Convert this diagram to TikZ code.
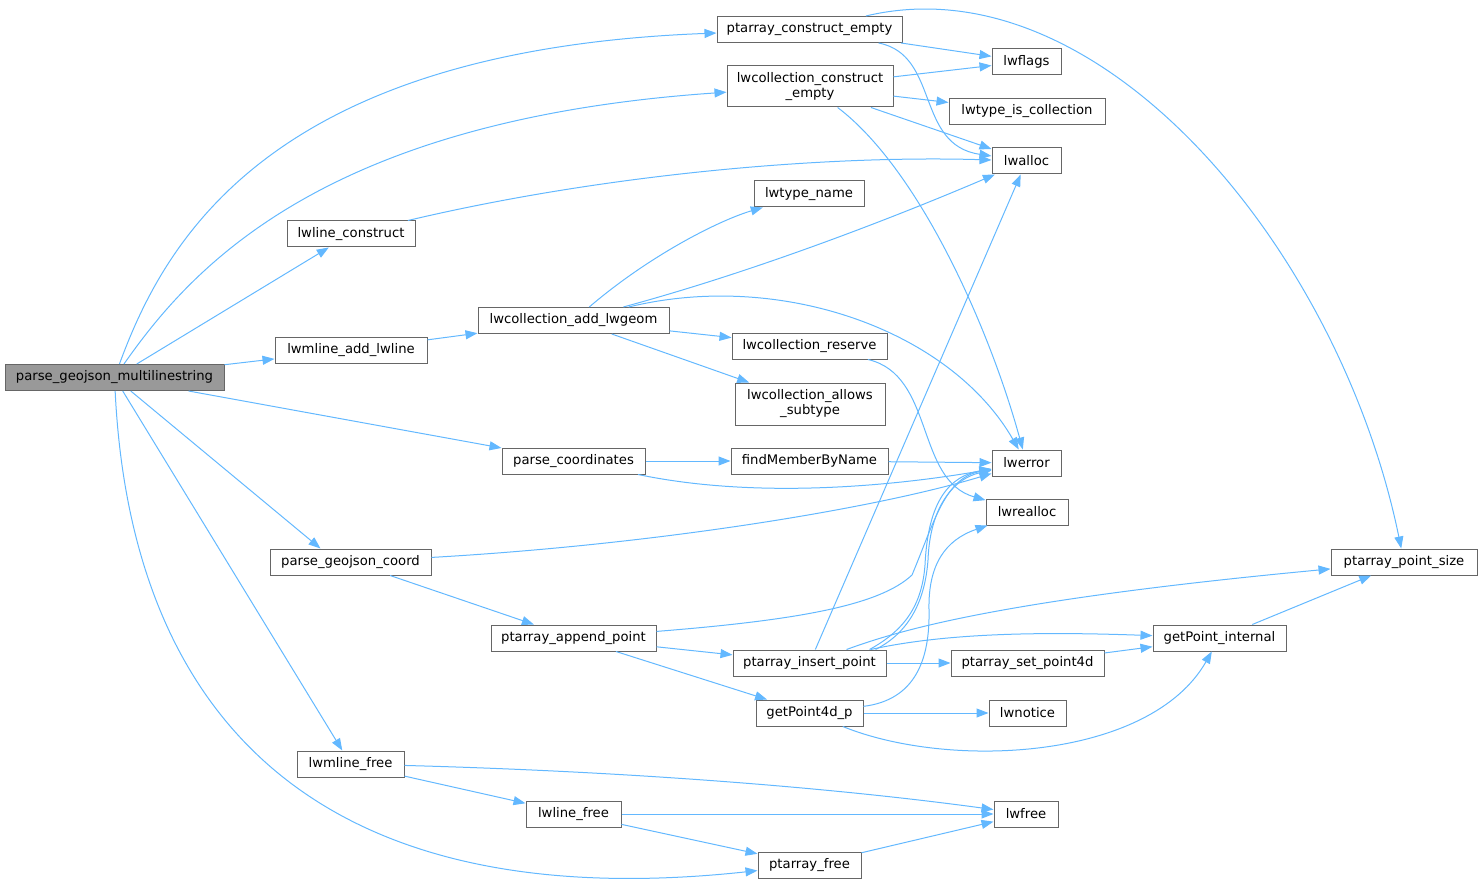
\documentclass[tikz,border=0pt]{standalone}
\usepackage{fontspec}
\setmainfont{DejaVu Sans}
\usetikzlibrary{arrows.meta,calc}
\definecolor{edgecol}{HTML}{63B8FF}
\definecolor{nodeborder}{HTML}{666666}
\definecolor{mainfill}{HTML}{999999}
\begin{document}
\begin{tikzpicture}[x=1pt,y=-1pt,
  fn/.style={draw=nodeborder, fill=white, line width=1pt, inner sep=0pt,
    minimum height=26pt, font=\fontsize{13.2}{15}\selectfont, align=center},
  call/.style={draw=edgecol, line width=1pt, -{Triangle[length=12pt,width=9pt]}}]
\useasboundingbox (0,0) rectangle (1483,893);

% nodes
\node[fn, fill=mainfill, minimum width=219pt] (P) at (114.5,377.5) {parse\_geojson\_multilinestring};
\node[fn, minimum width=185pt] (PCE) at (809.5,29.5) {ptarray\_construct\_empty};
\node[fn, minimum width=69pt] (LWF) at (1026.5,61.5) {lwflags};
\node[fn, minimum width=166pt, minimum height=41pt] (LCCE) at (810,86.5) {lwcollection\_construct\\\_empty};
\node[fn, minimum width=156pt] (LTIC) at (1027,111.5) {lwtype\_is\_collection};
\node[fn, minimum width=69pt] (LWA) at (1026.5,161) {lwalloc};
\node[fn, minimum width=110pt] (LTN) at (809,194) {lwtype\_name};
\node[fn, minimum width=128pt] (LC) at (351,234) {lwline\_construct};
\node[fn, minimum width=191pt] (LCAL) at (573.5,320.5) {lwcollection\_add\_lwgeom};
\node[fn, minimum width=152pt] (LMAL) at (351,350) {lwmline\_add\_lwline};
\node[fn, minimum width=155pt] (LCR) at (809.5,346) {lwcollection\_reserve};
\node[fn, minimum width=150pt, minimum height=42pt] (LCAS) at (810,404) {lwcollection\_allows\\\_subtype};
\node[fn, minimum width=143pt] (PC) at (573.5,461) {parse\_coordinates};
\node[fn, minimum width=157pt] (FMB) at (809.5,461) {findMemberByName};
\node[fn, minimum width=69pt] (LWE) at (1026.5,463) {lwerror};
\node[fn, minimum width=82pt] (LWR) at (1027,512) {lwrealloc};
\node[fn, minimum width=161pt] (PGC) at (350.5,562) {parse\_geojson\_coord};
\node[fn, minimum width=146pt] (PPS) at (1404,562) {ptarray\_point\_size};
\node[fn, minimum width=165pt] (PAP) at (573.5,638) {ptarray\_append\_point};
\node[fn, minimum width=133pt] (GPI) at (1219.5,638) {getPoint\_internal};
\node[fn, minimum width=153pt] (PIP) at (809.5,663) {ptarray\_insert\_point};
\node[fn, minimum width=153pt] (PSP) at (1027.5,663) {ptarray\_set\_point4d};
\node[fn, minimum width=107pt] (G4) at (809.5,713) {getPoint4d\_p};
\node[fn, minimum width=77pt] (LWN) at (1027.5,713) {lwnotice};
\node[fn, minimum width=107pt] (LMF) at (350.5,764) {lwmline\_free};
\node[fn, minimum width=95pt] (LLF) at (573.5,814) {lwline\_free};
\node[fn, minimum width=64pt] (LFR) at (1026,814) {lwfree};
\node[fn, minimum width=103pt] (PF) at (809.5,865) {ptarray\_free};

% edges from parse_geojson_multilinestring
\draw[call] (P) .. controls (165,240) and (270,50) .. (PCE);
\draw[call] (P) .. controls (190,270) and (320,120) .. (LCCE);
\draw[call] (P) -- (LC);
\draw[call] (P) -- (LMAL);
\draw[call] (P) -- (PC);
\draw[call] (P) -- ([xshift=-30pt]PGC.north);
\draw[call] (P) -- (LMF);
\draw[call] (P) .. controls (130,700) and (300,920) .. (PF);

% ptarray_construct_empty
\draw[call] (PCE) -- (LWF);
\draw[call] (PCE) .. controls (940,55) and (915,145) .. (LWA);
\draw[call] (PCE) .. controls (1100,-40) and (1340,250) .. (PPS);

% lwcollection_construct_empty
\draw[call] (LCCE) -- (LWF);
\draw[call] (LCCE) -- (LTIC);
\draw[call] (LCCE) -- (LWA);
\draw[call] (LCCE) .. controls (920,170) and (990,330) .. (LWE);

% lwline_construct
\draw[call] (LC) .. controls (600,175) and (820,155) .. (LWA);

% lwmline_add_lwline
\draw[call] (LMAL) -- (LCAL);

% lwcollection_add_lwgeom
\draw[call] (LCAL) .. controls (650,255) and (720,220) .. (LTN);
\draw[call] (LCAL) .. controls (760,270) and (900,215) .. (LWA);
\draw[call] (LCAL) .. controls (780,270) and (950,330) .. (LWE);
\draw[call] (LCAL) -- (LCR);
\draw[call] (LCAL) -- (LCAS);

% lwcollection_reserve
\draw[call] (LCR) .. controls (935,375) and (915,480) .. (LWR);

% parse_coordinates
\draw[call] (PC) -- (FMB);
\draw[call] (PC) .. controls (760,500) and (900,485) .. (LWE);
\draw[call] (FMB) -- (LWE);

% parse_geojson_coord
\draw[call] (PGC) .. controls (650,545) and (870,510) .. (LWE);
\draw[call] (PGC) -- (PAP);

% ptarray_append_point
\draw[call] (PAP) .. controls (800,620) and (880,605) .. (912,575)
  .. controls (935,520) and (945,478) .. (LWE);
\draw[call] (PAP) -- (PIP);
\draw[call] (PAP) -- (G4);

% ptarray_insert_point
\draw[call] (PIP) -- (LWA);
\draw[call] ([xshift=60pt]PIP.north) .. controls (905,630) and (922,605) .. (925,565)
  .. controls (928,500) and (950,476) .. (LWE);
\draw[call] ([xshift=66pt]PIP.north) .. controls (910,632) and (925,600) .. (928,560)
  .. controls (930,505) and (955,478) .. (LWE);
\draw[call] (PIP) .. controls (900,630) and (1000,600) .. (PPS);
\draw[call] (PIP) .. controls (950,632) and (1050,632) .. (GPI);
\draw[call] (PIP) -- (PSP);

% ptarray_set_point4d
\draw[call] (PSP) -- (GPI);

% getPoint_internal
\draw[call] (GPI) -- (PPS);

% getPoint4d_p
\draw[call] (G4) .. controls (915,700) and (930,660) .. (929,610)
  .. controls (928,565) and (945,540) .. (LWR);
\draw[call] (G4) -- (LWN);
\draw[call] (G4) .. controls (950,770) and (1150,760) .. (GPI);

% frees
\draw[call] (LMF) .. controls (650,772) and (850,790) .. (LFR);
\draw[call] (LMF) -- (LLF);
\draw[call] (LLF) -- (LFR);
\draw[call] (LLF) -- (PF);
\draw[call] (PF) -- (LFR);
\end{tikzpicture}
\end{document}
